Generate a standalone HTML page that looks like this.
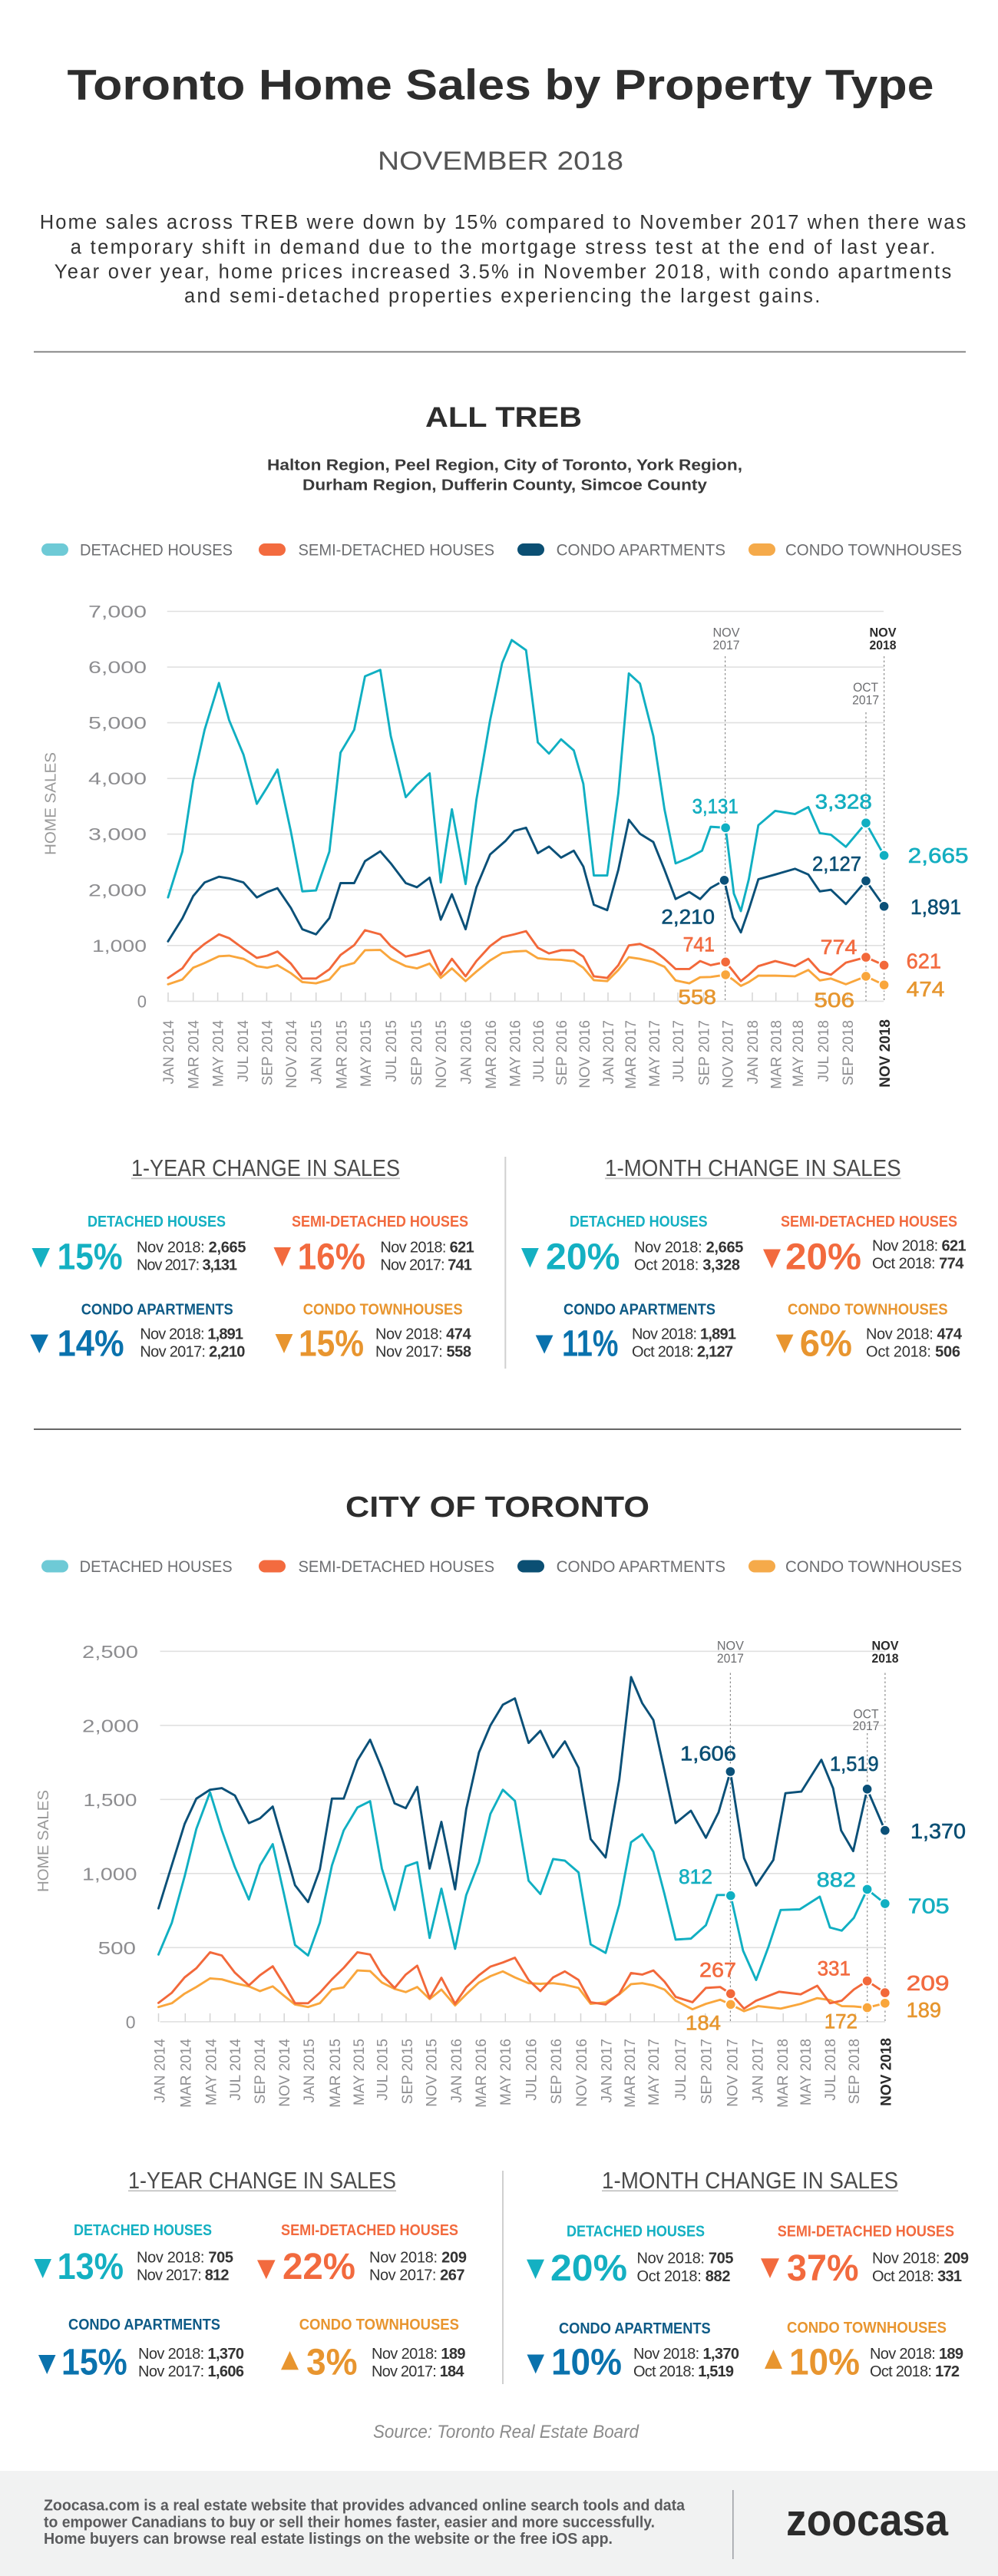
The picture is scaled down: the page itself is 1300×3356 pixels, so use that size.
<!DOCTYPE html>
<html><head><meta charset="utf-8"><title>Toronto Home Sales by Property Type</title>
<style>
html,body{margin:0;padding:0;background:#fff;}
svg{display:block;}
text{font-family:"Liberation Sans",Arial,sans-serif;}
</style></head>
<body>
<svg width="1300" height="3356" viewBox="0 0 1300 3356" xmlns="http://www.w3.org/2000/svg">
<rect x="0" y="0" width="1300" height="3356" fill="#fff"/>

<!-- HEADER -->
<text x="87.5" y="129.5" font-size="56" font-weight="bold" fill="#2d2d2d" textLength="1129" lengthAdjust="spacingAndGlyphs">Toronto Home Sales by Property Type</text>
<text x="492" y="221" font-size="34" fill="#555" textLength="320" lengthAdjust="spacingAndGlyphs">NOVEMBER 2018</text>
<g font-size="25.5" fill="#333">
<text x="51.7" y="298.2" textLength="1206.6">Home sales across TREB were down by 15% compared to November 2017 when there was</text>
<text x="91.7" y="330.4" textLength="1126.6">a temporary shift in demand due to the mortgage stress test at the end of last year.</text>
<text x="70.8" y="362.5" textLength="1168.4">Year over year,  home prices increased 3.5% in November 2018, with condo apartments</text>
<text x="240" y="393.8" textLength="828.3">and semi-detached properties experiencing the largest gains.</text>
</g>
<rect x="44" y="457.5" width="1214" height="1.8" fill="#7a7a7a"/>

<!-- ALL TREB -->
<text x="554" y="555.8" font-size="37" font-weight="bold" fill="#2d2d2d" textLength="204" lengthAdjust="spacingAndGlyphs">ALL TREB</text>
<g font-size="20" font-weight="bold" fill="#3a3a3a">
<text x="348" y="612.5" textLength="619" lengthAdjust="spacingAndGlyphs">Halton Region, Peel Region, City of Toronto, York Region,</text>
<text x="394" y="638.4" textLength="527" lengthAdjust="spacingAndGlyphs">Durham Region, Dufferin County, Simcoe County</text>
</g>

<!-- legend 1 -->
<g font-size="21" fill="#6d6e71">
<rect x="54" y="708" width="35" height="16" rx="8" fill="#6ecad6"/>
<text x="104" y="723.5" textLength="199" lengthAdjust="spacingAndGlyphs">DETACHED HOUSES</text>
<rect x="337" y="708" width="35" height="16" rx="8" fill="#f36b3f"/>
<text x="388.5" y="723.5" textLength="255.5" lengthAdjust="spacingAndGlyphs">SEMI-DETACHED HOUSES</text>
<rect x="674" y="708" width="35" height="16" rx="8" fill="#0b4f73"/>
<text x="724.6" y="723.5" textLength="220.4" lengthAdjust="spacingAndGlyphs">CONDO APARTMENTS</text>
<rect x="975" y="708" width="35" height="16" rx="8" fill="#f5aa4a"/>
<text x="1023" y="723.5" textLength="230" lengthAdjust="spacingAndGlyphs">CONDO TOWNHOUSES</text>
</g>

<!-- CHART 1 grid -->
<g stroke="#e0e0e0" stroke-width="1.6">
<line x1="217.7" y1="796.5" x2="1151" y2="796.5"/>
<line x1="217.7" y1="869.1" x2="1151" y2="869.1"/>
<line x1="217.7" y1="941.6" x2="1151" y2="941.6"/>
<line x1="217.7" y1="1014.2" x2="1151" y2="1014.2"/>
<line x1="217.7" y1="1086.7" x2="1151" y2="1086.7"/>
<line x1="217.7" y1="1159.3" x2="1151" y2="1159.3"/>
<line x1="217.7" y1="1231.8" x2="1151" y2="1231.8"/>
<line x1="217.7" y1="1304.4" x2="1151" y2="1304.4"/>
</g>
<g font-size="22" fill="#8d8d90" text-anchor="end">
<text x="191" y="804.5" textLength="76" lengthAdjust="spacingAndGlyphs">7,000</text>
<text x="191" y="877.1" textLength="76" lengthAdjust="spacingAndGlyphs">6,000</text>
<text x="191" y="949.6" textLength="76" lengthAdjust="spacingAndGlyphs">5,000</text>
<text x="191" y="1022.2" textLength="76" lengthAdjust="spacingAndGlyphs">4,000</text>
<text x="191" y="1094.7" textLength="76" lengthAdjust="spacingAndGlyphs">3,000</text>
<text x="191" y="1167.3" textLength="76" lengthAdjust="spacingAndGlyphs">2,000</text>
<text x="191" y="1239.8" textLength="71" lengthAdjust="spacingAndGlyphs">1,000</text>
<text x="191" y="1312.4">0</text>
</g>
<text transform="translate(72.5,1047) rotate(-90)" x="0" y="0" text-anchor="middle" font-size="20" fill="#9a9a9a" textLength="134" lengthAdjust="spacingAndGlyphs">HOME SALES</text>

<!-- chart 1 ticks -->
<g stroke="#d4d4d4" stroke-width="1.5">
<line x1="219" y1="1293" x2="219" y2="1304"/><line x1="251.7" y1="1293" x2="251.7" y2="1304"/><line x1="283.6" y1="1293" x2="283.6" y2="1304"/><line x1="316" y1="1293" x2="316" y2="1304"/><line x1="347.4" y1="1293" x2="347.4" y2="1304"/><line x1="379" y1="1293" x2="379" y2="1304"/><line x1="411.7" y1="1293" x2="411.7" y2="1304"/><line x1="444.4" y1="1293" x2="444.4" y2="1304"/><line x1="476" y1="1293" x2="476" y2="1304"/><line x1="509" y1="1293" x2="509" y2="1304"/><line x1="542" y1="1293" x2="542" y2="1304"/><line x1="574" y1="1293" x2="574" y2="1304"/><line x1="606.5" y1="1293" x2="606.5" y2="1304"/><line x1="639" y1="1293" x2="639" y2="1304"/><line x1="670.7" y1="1293" x2="670.7" y2="1304"/><line x1="701" y1="1293" x2="701" y2="1304"/><line x1="731" y1="1293" x2="731" y2="1304"/><line x1="761" y1="1293" x2="761" y2="1304"/><line x1="792" y1="1293" x2="792" y2="1304"/><line x1="821" y1="1293" x2="821" y2="1304"/><line x1="852" y1="1293" x2="852" y2="1304"/><line x1="883" y1="1293" x2="883" y2="1304"/><line x1="916.6" y1="1293" x2="916.6" y2="1304"/><line x1="980" y1="1293" x2="980" y2="1304"/><line x1="1010.7" y1="1293" x2="1010.7" y2="1304"/><line x1="1039" y1="1293" x2="1039" y2="1304"/><line x1="1072" y1="1293" x2="1072" y2="1304"/><line x1="1104" y1="1293" x2="1104" y2="1304"/>
</g>
<!-- chart 1 x labels -->
<g font-size="19" fill="#8f8f92" text-anchor="end">
<text transform="translate(226,1329) rotate(-90)">JAN 2014</text>
<text transform="translate(258.7,1329) rotate(-90)">MAR 2014</text>
<text transform="translate(290.6,1329) rotate(-90)">MAY 2014</text>
<text transform="translate(323,1329) rotate(-90)">JUL 2014</text>
<text transform="translate(354.4,1329) rotate(-90)">SEP 2014</text>
<text transform="translate(386,1329) rotate(-90)">NOV 2014</text>
<text transform="translate(418.7,1329) rotate(-90)">JAN 2015</text>
<text transform="translate(451.4,1329) rotate(-90)">MAR 2015</text>
<text transform="translate(483,1329) rotate(-90)">MAY 2015</text>
<text transform="translate(516,1329) rotate(-90)">JUL 2015</text>
<text transform="translate(549,1329) rotate(-90)">SEP 2015</text>
<text transform="translate(581,1329) rotate(-90)">NOV 2015</text>
<text transform="translate(613.5,1329) rotate(-90)">JAN 2016</text>
<text transform="translate(646,1329) rotate(-90)">MAR 2016</text>
<text transform="translate(677.7,1329) rotate(-90)">MAY 2016</text>
<text transform="translate(708,1329) rotate(-90)">JUL 2016</text>
<text transform="translate(738,1329) rotate(-90)">SEP 2016</text>
<text transform="translate(768,1329) rotate(-90)">NOV 2016</text>
<text transform="translate(799,1329) rotate(-90)">JAN 2017</text>
<text transform="translate(828,1329) rotate(-90)">MAR 2017</text>
<text transform="translate(859,1329) rotate(-90)">MAY 2017</text>
<text transform="translate(890,1329) rotate(-90)">JUL 2017</text>
<text transform="translate(923.6,1329) rotate(-90)">SEP 2017</text>
<text transform="translate(954.7,1329) rotate(-90)">NOV 2017</text>
<text transform="translate(987,1329) rotate(-90)">JAN 2018</text>
<text transform="translate(1017.7,1329) rotate(-90)">MAR 2018</text>
<text transform="translate(1046,1329) rotate(-90)">MAY 2018</text>
<text transform="translate(1079,1329) rotate(-90)">JUL 2018</text>
<text transform="translate(1111,1329) rotate(-90)">SEP 2018</text>
<text transform="translate(1159,1328) rotate(-90)" font-weight="bold" fill="#2b2b2b">NOV 2018</text>
</g>

<!-- chart 1 dashed markers -->
<g stroke="#8a8a8a" stroke-width="1.2" stroke-dasharray="2.5,3">
<line x1="944.6" y1="855" x2="944.6" y2="1304"/>
<line x1="1128" y1="928" x2="1128" y2="1304"/>
<line x1="1151.6" y1="855" x2="1151.6" y2="1304"/>
</g>
<g font-size="17" text-anchor="middle" fill="#6d6e71">
<text x="946" y="829.4" textLength="35" lengthAdjust="spacingAndGlyphs">NOV</text>
<text x="946" y="845.8" textLength="35" lengthAdjust="spacingAndGlyphs">2017</text>
<text x="1127.6" y="901" textLength="33" lengthAdjust="spacingAndGlyphs">OCT</text>
<text x="1127.6" y="917.5" textLength="35" lengthAdjust="spacingAndGlyphs">2017</text>
<text x="1150" y="829.4" font-weight="bold" fill="#2b2b2b" textLength="35" lengthAdjust="spacingAndGlyphs">NOV</text>
<text x="1150" y="845.8" font-weight="bold" fill="#2b2b2b" textLength="35" lengthAdjust="spacingAndGlyphs">2018</text>
</g>

<!-- chart 1 series (zoom frame coords) -->
<g transform="translate(0,760) scale(0.41454)" fill="none" stroke-width="7" stroke-linejoin="round" stroke-linecap="round">
<polyline stroke="#f9a63c" points="528,1260 573,1245 607,1208 643,1193 688,1172 720,1170 765,1180 807,1203 840,1208 872,1200 914,1225 950,1253 993,1257 1035,1245 1070,1205 1113,1193 1147,1153 1195,1152 1228,1180 1275,1203 1310,1210 1350,1195 1385,1240 1420,1210 1463,1250 1497,1220 1540,1185 1578,1162 1616,1157 1653,1155 1690,1178 1725,1182 1763,1183 1803,1188 1833,1208 1866,1247 1908,1250 1943,1215 1976,1175 2011,1180 2053,1190 2088,1205 2123,1248 2166,1257 2200,1238 2233,1237 2280,1230 2303,1245 2328,1265 2353,1253 2383,1233 2436,1233 2498,1235 2540,1215 2576,1248 2611,1242 2658,1260 2721,1235 2778,1262"/>
<polyline stroke="#f2683a" points="528,1240 573,1210 607,1163 643,1133 688,1103 720,1115 765,1148 807,1177 840,1170 872,1157 914,1195 950,1242 993,1242 1035,1213 1070,1168 1113,1137 1147,1090 1195,1103 1228,1140 1275,1173 1310,1165 1350,1153 1385,1230 1420,1180 1463,1235 1497,1187 1540,1140 1578,1112 1616,1103 1653,1093 1690,1145 1725,1163 1763,1153 1803,1153 1833,1173 1866,1235 1908,1240 1943,1200 1976,1138 2011,1133 2053,1152 2088,1180 2123,1212 2166,1212 2200,1187 2233,1200 2280,1190 2303,1218 2328,1250 2353,1230 2383,1203 2436,1187 2498,1203 2540,1180 2576,1220 2611,1230 2658,1192 2721,1175 2778,1200"/>
<polyline stroke="#0a5078" points="528,1125 573,1053 607,983 643,940 688,922 720,927 765,940 807,987 840,970 872,958 914,1020 950,1087 993,1103 1035,1052 1070,942 1113,942 1147,873 1195,842 1228,880 1275,942 1310,955 1350,925 1385,1057 1420,977 1463,1087 1497,955 1540,852 1588,810 1616,778 1653,768 1690,848 1725,827 1763,862 1803,840 1833,890 1866,1010 1908,1027 1943,900 1976,743 2011,787 2053,813 2088,900 2123,992 2166,970 2200,992 2233,957 2276,933 2303,1050 2328,1097 2353,1025 2383,930 2436,915 2498,897 2540,915 2576,968 2611,963 2658,1008 2721,935 2778,1015"/>
<polyline stroke="#10afc2" points="528,987 573,843 607,620 643,460 688,313 720,430 765,538 807,693 840,640 872,585 914,780 950,968 993,965 1035,843 1070,532 1113,460 1147,292 1195,272 1228,480 1275,672 1310,633 1350,597 1385,940 1420,710 1463,945 1497,680 1540,430 1578,250 1608,178 1653,210 1690,500 1725,535 1763,490 1803,525 1833,630 1866,918 1908,918 1943,660 1976,283 2011,315 2053,480 2088,710 2123,880 2166,862 2206,840 2233,765 2280,768 2306,975 2328,1030 2353,930 2383,760 2436,715 2498,725 2540,703 2576,785 2611,790 2658,828 2721,753 2778,855"/>
<g stroke="#fff" stroke-width="4">
<circle cx="2280" cy="768" r="16" fill="#10afc2"/><circle cx="2721" cy="753" r="16" fill="#10afc2"/><circle cx="2778" cy="855" r="16" fill="#10afc2"/>
<circle cx="2276" cy="933" r="16" fill="#0a5078"/><circle cx="2721" cy="935" r="16" fill="#0a5078"/><circle cx="2778" cy="1015" r="16" fill="#0a5078"/>
<circle cx="2280" cy="1190" r="16" fill="#f2683a"/><circle cx="2721" cy="1175" r="16" fill="#f2683a"/><circle cx="2778" cy="1200" r="16" fill="#f2683a"/>
<circle cx="2280" cy="1230" r="16" fill="#f9a63c"/><circle cx="2721" cy="1235" r="16" fill="#f9a63c"/><circle cx="2778" cy="1262" r="16" fill="#f9a63c"/>
</g>
</g>

<!-- chart 1 value labels -->
<g font-size="27" stroke-width="0.6" lengthAdjust="spacingAndGlyphs">
<text x="901.6" y="1059.3" fill="#14aec0" stroke="#14aec0" textLength="60.2" lengthAdjust="spacingAndGlyphs">3,131</text>
<text x="1061.7" y="1053.5" fill="#14aec0" stroke="#14aec0" textLength="74.2" lengthAdjust="spacingAndGlyphs">3,328</text>
<text x="1182.7" y="1124" font-size="28" fill="#14aec0" stroke="#14aec0" textLength="78.8" lengthAdjust="spacingAndGlyphs">2,665</text>
<text x="1058" y="1134.4" fill="#0a4f74" stroke="#0a4f74" textLength="64" lengthAdjust="spacingAndGlyphs">2,127</text>
<text x="861.4" y="1203.6" fill="#0a4f74" stroke="#0a4f74" textLength="69.6" lengthAdjust="spacingAndGlyphs">2,210</text>
<text x="1186" y="1191" font-size="28" fill="#0a4f74" stroke="#0a4f74" textLength="66" lengthAdjust="spacingAndGlyphs">1,891</text>
<text x="889.6" y="1239.7" fill="#f26b40" stroke="#f26b40" textLength="41.4" lengthAdjust="spacingAndGlyphs">741</text>
<text x="1068.7" y="1243" fill="#f26b40" stroke="#f26b40" textLength="47.7" lengthAdjust="spacingAndGlyphs">774</text>
<text x="1180.6" y="1261.6" font-size="28" fill="#f26b40" stroke="#f26b40" textLength="45.4" lengthAdjust="spacingAndGlyphs">621</text>
<text x="883.4" y="1308" fill="#e6962f" stroke="#e6962f" textLength="49.6" lengthAdjust="spacingAndGlyphs">558</text>
<text x="1060.4" y="1312" fill="#e6962f" stroke="#e6962f" textLength="52.6" lengthAdjust="spacingAndGlyphs">506</text>
<text x="1180.6" y="1298" font-size="28" fill="#e6962f" stroke="#e6962f" textLength="49.8" lengthAdjust="spacingAndGlyphs">474</text>
</g>

<!-- STATS 1 -->
<g font-size="31" fill="#4a4a4a">
<text x="171" y="1532" textLength="350" lengthAdjust="spacingAndGlyphs">1-YEAR CHANGE IN SALES</text>
<text x="788" y="1532" textLength="385.6" lengthAdjust="spacingAndGlyphs">1-MONTH CHANGE IN SALES</text>
</g>
<rect x="171" y="1534.2" width="350" height="2" fill="#c8c8c8"/>
<rect x="788" y="1534.2" width="385.6" height="2" fill="#c8c8c8"/>
<rect x="657.3" y="1507" width="2" height="276" fill="#d0d0d0"/>

<g font-size="20" font-weight="bold">
<text x="114" y="1598" fill="#14b0c2" textLength="180" lengthAdjust="spacingAndGlyphs">DETACHED HOUSES</text>
<text x="380" y="1598" fill="#f26a3e" textLength="230" lengthAdjust="spacingAndGlyphs">SEMI-DETACHED HOUSES</text>
<text x="105.7" y="1712.5" fill="#0d5a86" textLength="198" lengthAdjust="spacingAndGlyphs">CONDO APARTMENTS</text>
<text x="394.7" y="1712.5" fill="#e8952f" textLength="208" lengthAdjust="spacingAndGlyphs">CONDO TOWNHOUSES</text>
<text x="742" y="1598" fill="#14b0c2" textLength="179.6" lengthAdjust="spacingAndGlyphs">DETACHED HOUSES</text>
<text x="1017" y="1598" fill="#f26a3e" textLength="230" lengthAdjust="spacingAndGlyphs">SEMI-DETACHED HOUSES</text>
<text x="734" y="1712.5" fill="#0d5a86" textLength="198" lengthAdjust="spacingAndGlyphs">CONDO APARTMENTS</text>
<text x="1026" y="1712.5" fill="#e8952f" textLength="208.6" lengthAdjust="spacingAndGlyphs">CONDO TOWNHOUSES</text>
</g>
<g font-size="48" font-weight="bold">
<text x="74.6" y="1653.6" fill="#14b0c2" textLength="85" lengthAdjust="spacingAndGlyphs">15%</text>
<text x="387.6" y="1653.6" fill="#f26a3e" textLength="88.4" lengthAdjust="spacingAndGlyphs">16%</text>
<text x="74.6" y="1766.4" fill="#0a72ad" textLength="87" lengthAdjust="spacingAndGlyphs">14%</text>
<text x="389" y="1766.4" fill="#e8952f" textLength="85" lengthAdjust="spacingAndGlyphs">15%</text>
<text x="711" y="1653.6" fill="#14b0c2" textLength="96.5" lengthAdjust="spacingAndGlyphs">20%</text>
<text x="1023" y="1653.6" fill="#f26a3e" textLength="99" lengthAdjust="spacingAndGlyphs">20%</text>
<text x="732" y="1766.4" fill="#0a72ad" textLength="73.5" lengthAdjust="spacingAndGlyphs">11%</text>
<text x="1041.8" y="1766.4" fill="#e8952f" textLength="68.2" lengthAdjust="spacingAndGlyphs">6%</text>
</g>
<polygon points="41.5,1626 65,1626 53.2,1651.6" fill="#14b0c2"/>
<polygon points="356.5,1625 379,1625 367.7,1650" fill="#f26a3e"/>
<polygon points="39.4,1738.6 63,1738.6 51.2,1763" fill="#0a72ad"/>
<polygon points="358.6,1738 381.4,1738 370,1763" fill="#e8952f"/>
<polygon points="679,1626 701.8,1626 690.4,1651.6" fill="#14b0c2"/>
<polygon points="994,1627.5 1017,1627.5 1005.5,1652.4" fill="#f26a3e"/>
<polygon points="697.7,1739.5 720.5,1739.5 709.1,1763.6" fill="#0a72ad"/>
<polygon points="1010.7,1738.6 1033.5,1738.6 1022.1,1763" fill="#e8952f"/>

<g font-size="20" fill="#333">
<text x="178" y="1631.7" textLength="142.5">Nov 2018: <tspan font-weight="bold">2,665</tspan></text>
<text x="178" y="1654.5" textLength="131">Nov 2017: <tspan font-weight="bold">3,131</tspan></text>
<text x="495.4" y="1631.7" textLength="122.3">Nov 2018: <tspan font-weight="bold">621</tspan></text>
<text x="495.4" y="1654.5" textLength="119.5">Nov 2017: <tspan font-weight="bold">741</tspan></text>
<text x="182.4" y="1744.5" textLength="134.6">Nov 2018: <tspan font-weight="bold">1,891</tspan></text>
<text x="182.4" y="1767.6" textLength="137">Nov 2017: <tspan font-weight="bold">2,210</tspan></text>
<text x="489" y="1744.5" textLength="124.6">Nov 2018: <tspan font-weight="bold">474</tspan></text>
<text x="489" y="1767.6" textLength="125">Nov 2017: <tspan font-weight="bold">558</tspan></text>
<text x="826" y="1631.7" textLength="142.4">Nov 2018: <tspan font-weight="bold">2,665</tspan></text>
<text x="826" y="1654.5" textLength="138">Oct 2018: <tspan font-weight="bold">3,328</tspan></text>
<text x="1136" y="1629.6" textLength="122.6">Nov 2018: <tspan font-weight="bold">621</tspan></text>
<text x="1136" y="1652.4" textLength="119.4">Oct 2018: <tspan font-weight="bold">774</tspan></text>
<text x="823" y="1744.5" textLength="136">Nov 2018: <tspan font-weight="bold">1,891</tspan></text>
<text x="823" y="1767.6" textLength="132">Oct 2018: <tspan font-weight="bold">2,127</tspan></text>
<text x="1128" y="1744.5" textLength="125">Nov 2018: <tspan font-weight="bold">474</tspan></text>
<text x="1128" y="1767.6" textLength="123">Oct 2018: <tspan font-weight="bold">506</tspan></text>
</g>

<rect x="44" y="1861" width="1208" height="2" fill="#666"/>

<!-- CITY OF TORONTO -->
<text x="450" y="1976.2" font-size="38" font-weight="bold" fill="#2d2d2d" textLength="396" lengthAdjust="spacingAndGlyphs">CITY OF TORONTO</text>
<g font-size="21" fill="#6d6e71">
<rect x="54" y="2032.5" width="35" height="16" rx="8" fill="#6ecad6"/>
<text x="103.6" y="2048" textLength="199" lengthAdjust="spacingAndGlyphs">DETACHED HOUSES</text>
<rect x="337" y="2032.5" width="35" height="16" rx="8" fill="#f36b3f"/>
<text x="388.5" y="2048" textLength="255.5" lengthAdjust="spacingAndGlyphs">SEMI-DETACHED HOUSES</text>
<rect x="674" y="2032.5" width="35" height="16" rx="8" fill="#0b4f73"/>
<text x="724.6" y="2048" textLength="220.4" lengthAdjust="spacingAndGlyphs">CONDO APARTMENTS</text>
<rect x="975" y="2032.5" width="35" height="16" rx="8" fill="#f5aa4a"/>
<text x="1023" y="2048" textLength="230" lengthAdjust="spacingAndGlyphs">CONDO TOWNHOUSES</text>
</g>

<!-- CHART 2 grid -->
<g stroke="#e0e0e0" stroke-width="1.6">
<line x1="208.5" y1="2151.3" x2="1153" y2="2151.3"/>
<line x1="208.5" y1="2247.8" x2="1153" y2="2247.8"/>
<line x1="208.5" y1="2344.3" x2="1153" y2="2344.3"/>
<line x1="208.5" y1="2440.8" x2="1153" y2="2440.8"/>
<line x1="208.5" y1="2537.3" x2="1153" y2="2537.3"/>
<line x1="208.5" y1="2633.9" x2="1153" y2="2633.9"/>
</g>
<g font-size="23" fill="#8d8d90" text-anchor="end">
<text x="180" y="2160" textLength="73" lengthAdjust="spacingAndGlyphs">2,500</text>
<text x="181" y="2256.5" textLength="74" lengthAdjust="spacingAndGlyphs">2,000</text>
<text x="178.5" y="2353" textLength="70" lengthAdjust="spacingAndGlyphs">1,500</text>
<text x="178.5" y="2449.5" textLength="71.5" lengthAdjust="spacingAndGlyphs">1,000</text>
<text x="177" y="2546" textLength="49.3" lengthAdjust="spacingAndGlyphs">500</text>
<text x="176.5" y="2642.5">0</text>
</g>
<text transform="translate(63,2398.5) rotate(-90)" x="0" y="0" text-anchor="middle" font-size="20" fill="#9a9a9a" textLength="133" lengthAdjust="spacingAndGlyphs">HOME SALES</text>

<g stroke="#d4d4d4" stroke-width="1.5">
<line x1="206.5" y1="2623" x2="206.5" y2="2634"/><line x1="241.3" y1="2623" x2="241.3" y2="2634"/><line x1="273.6" y1="2623" x2="273.6" y2="2634"/><line x1="306" y1="2623" x2="306" y2="2634"/><line x1="338.7" y1="2623" x2="338.7" y2="2634"/><line x1="370.2" y1="2623" x2="370.2" y2="2634"/><line x1="402" y1="2623" x2="402" y2="2634"/><line x1="435.3" y1="2623" x2="435.3" y2="2634"/><line x1="467.2" y1="2623" x2="467.2" y2="2634"/><line x1="497.5" y1="2623" x2="497.5" y2="2634"/><line x1="529" y1="2623" x2="529" y2="2634"/><line x1="561.8" y1="2623" x2="561.8" y2="2634"/><line x1="594" y1="2623" x2="594" y2="2634"/><line x1="626.4" y1="2623" x2="626.4" y2="2634"/><line x1="658.3" y1="2623" x2="658.3" y2="2634"/><line x1="690.6" y1="2623" x2="690.6" y2="2634"/><line x1="722.6" y1="2623" x2="722.6" y2="2634"/><line x1="756.5" y1="2623" x2="756.5" y2="2634"/><line x1="788.9" y1="2623" x2="788.9" y2="2634"/><line x1="821.2" y1="2623" x2="821.2" y2="2634"/><line x1="852.3" y1="2623" x2="852.3" y2="2634"/><line x1="884.2" y1="2623" x2="884.2" y2="2634"/><line x1="918.7" y1="2623" x2="918.7" y2="2634"/><line x1="985.8" y1="2623" x2="985.8" y2="2634"/><line x1="1020.2" y1="2623" x2="1020.2" y2="2634"/><line x1="1050" y1="2623" x2="1050" y2="2634"/><line x1="1082.4" y1="2623" x2="1082.4" y2="2634"/><line x1="1114.3" y1="2623" x2="1114.3" y2="2634"/>
</g>
<g font-size="19" fill="#8f8f92" text-anchor="end">
<text transform="translate(214.3,2656) rotate(-90)">JAN 2014</text>
<text transform="translate(248.3,2656) rotate(-90)">MAR 2014</text>
<text transform="translate(281.5,2656) rotate(-90)">MAY 2014</text>
<text transform="translate(313,2656) rotate(-90)">JUL 2014</text>
<text transform="translate(345,2656) rotate(-90)">SEP 2014</text>
<text transform="translate(377,2656) rotate(-90)">NOV 2014</text>
<text transform="translate(409,2656) rotate(-90)">JAN 2015</text>
<text transform="translate(443,2656) rotate(-90)">MAR 2015</text>
<text transform="translate(474,2656) rotate(-90)">MAY 2015</text>
<text transform="translate(504.5,2656) rotate(-90)">JUL 2015</text>
<text transform="translate(537,2656) rotate(-90)">SEP 2015</text>
<text transform="translate(568.7,2656) rotate(-90)">NOV 2015</text>
<text transform="translate(601,2656) rotate(-90)">JAN 2016</text>
<text transform="translate(633,2656) rotate(-90)">MAR 2016</text>
<text transform="translate(665,2656) rotate(-90)">MAY 2016</text>
<text transform="translate(698.5,2656) rotate(-90)">JUL 2016</text>
<text transform="translate(730.8,2656) rotate(-90)">SEP 2016</text>
<text transform="translate(764,2656) rotate(-90)">NOV 2016</text>
<text transform="translate(796.7,2656) rotate(-90)">JAN 2017</text>
<text transform="translate(827,2656) rotate(-90)">MAR 2017</text>
<text transform="translate(858,2656) rotate(-90)">MAY 2017</text>
<text transform="translate(893,2656) rotate(-90)">JUL 2017</text>
<text transform="translate(926.5,2656) rotate(-90)">SEP 2017</text>
<text transform="translate(960.5,2656) rotate(-90)">NOV 2017</text>
<text transform="translate(993.6,2656) rotate(-90)">JAN 2017</text>
<text transform="translate(1026,2656) rotate(-90)">MAR 2018</text>
<text transform="translate(1055.8,2656) rotate(-90)">MAY 2018</text>
<text transform="translate(1088,2656) rotate(-90)">JUL 2018</text>
<text transform="translate(1119,2656) rotate(-90)">SEP 2018</text>
<text transform="translate(1160.5,2655) rotate(-90)" font-weight="bold" fill="#2b2b2b">NOV 2018</text>
</g>

<g stroke="#8a8a8a" stroke-width="1.2" stroke-dasharray="2.5,3">
<line x1="951.4" y1="2179.5" x2="951.4" y2="2634"/>
<line x1="1129.7" y1="2258" x2="1129.7" y2="2634"/>
<line x1="1152.9" y1="2179.5" x2="1152.9" y2="2634"/>
</g>
<g font-size="17" text-anchor="middle" fill="#6d6e71">
<text x="951.4" y="2149.7" textLength="35" lengthAdjust="spacingAndGlyphs">NOV</text>
<text x="951.4" y="2165.8" textLength="35" lengthAdjust="spacingAndGlyphs">2017</text>
<text x="1128" y="2238.4" textLength="33" lengthAdjust="spacingAndGlyphs">OCT</text>
<text x="1128" y="2254" textLength="35" lengthAdjust="spacingAndGlyphs">2017</text>
<text x="1153" y="2149.7" font-weight="bold" fill="#2b2b2b" textLength="35" lengthAdjust="spacingAndGlyphs">NOV</text>
<text x="1153" y="2165.8" font-weight="bold" fill="#2b2b2b" textLength="35" lengthAdjust="spacingAndGlyphs">2018</text>
</g>

<g transform="translate(0,2080) scale(0.41454)" fill="none" stroke-width="7" stroke-linejoin="round" stroke-linecap="round">
<polyline stroke="#f9a63c" points="498,1290 540,1278 580,1248 617,1227 660,1200 697,1203 738,1215 782,1225 817,1240 857,1225 893,1255 927,1282 968,1290 1005,1278 1043,1235 1080,1228 1123,1175 1163,1177 1200,1213 1240,1233 1275,1243 1311,1227 1350,1265 1387,1235 1430,1285 1465,1250 1505,1213 1541,1193 1580,1178 1618,1197 1661,1215 1698,1217 1738,1215 1775,1220 1818,1230 1856,1280 1903,1275 1946,1250 1983,1218 2018,1215 2053,1222 2088,1235 2123,1270 2176,1297 2218,1280 2263,1267 2296,1282 2338,1303 2383,1287 2453,1295 2516,1280 2568,1262 2608,1268 2645,1287 2683,1288 2725,1292 2781,1278"/>
<polyline stroke="#f2683a" points="498,1277 540,1245 580,1197 617,1168 660,1118 697,1128 738,1182 782,1222 817,1190 857,1162 893,1220 927,1278 968,1278 1005,1245 1043,1203 1080,1167 1123,1118 1163,1125 1200,1188 1240,1230 1275,1188 1311,1160 1350,1262 1387,1198 1430,1280 1465,1228 1505,1190 1541,1163 1580,1150 1618,1135 1661,1205 1698,1240 1738,1197 1775,1178 1818,1205 1856,1275 1903,1282 1946,1248 1983,1183 2018,1188 2053,1175 2088,1210 2123,1258 2176,1275 2218,1230 2263,1227 2296,1248 2338,1295 2376,1270 2448,1242 2516,1250 2568,1223 2608,1278 2645,1270 2683,1235 2725,1208 2781,1245"/>
<polyline stroke="#10afc2" points="498,1125 540,1025 580,880 617,730 660,615 697,735 738,850 782,952 817,845 857,778 893,938 927,1095 968,1128 1005,1025 1043,845 1080,735 1123,663 1163,643 1200,855 1240,985 1275,848 1311,835 1350,1073 1387,918 1430,1107 1465,938 1505,835 1541,683 1580,607 1618,642 1661,893 1698,935 1738,825 1775,830 1818,867 1856,1093 1903,1120 1946,968 1983,772 2018,747 2053,802 2088,935 2123,1078 2171,1075 2218,1033 2253,938 2278,938 2296,940 2335,1113 2376,1205 2415,1100 2453,985 2513,983 2576,943 2608,1040 2645,1050 2683,1010 2725,920 2781,965"/>
<polyline stroke="#0a5078" points="498,980 535,860 580,715 617,635 660,607 697,602 738,625 782,712 817,697 857,660 893,785 927,907 968,960 1005,858 1043,635 1080,635 1123,515 1163,450 1200,540 1240,650 1275,665 1311,598 1350,855 1387,708 1430,920 1465,668 1505,490 1541,405 1580,340 1618,320 1661,460 1698,422 1738,505 1775,455 1818,538 1856,762 1903,820 1946,575 1983,253 2018,335 2053,388 2088,548 2123,712 2171,673 2218,758 2258,678 2295,550 2338,822 2376,908 2430,828 2468,618 2518,613 2581,513 2618,603 2643,735 2681,800 2725,605 2781,735"/>
<g stroke="#fff" stroke-width="4">
<circle cx="2296" cy="940" r="16" fill="#10afc2"/><circle cx="2725" cy="920" r="16" fill="#10afc2"/><circle cx="2781" cy="965" r="16" fill="#10afc2"/>
<circle cx="2295" cy="550" r="16" fill="#0a5078"/><circle cx="2725" cy="605" r="16" fill="#0a5078"/><circle cx="2781" cy="735" r="16" fill="#0a5078"/>
<circle cx="2296" cy="1248" r="16" fill="#f2683a"/><circle cx="2725" cy="1208" r="16" fill="#f2683a"/><circle cx="2781" cy="1245" r="16" fill="#f2683a"/>
<circle cx="2296" cy="1282" r="16" fill="#f9a63c"/><circle cx="2725" cy="1292" r="16" fill="#f9a63c"/><circle cx="2781" cy="1278" r="16" fill="#f9a63c"/>
</g>
</g>

<g font-size="27" stroke-width="0.6">
<text x="886" y="2293.5" fill="#0a4f74" stroke="#0a4f74" textLength="73" lengthAdjust="spacingAndGlyphs">1,606</text>
<text x="1081" y="2307" fill="#0a4f74" stroke="#0a4f74" textLength="63.6" lengthAdjust="spacingAndGlyphs">1,519</text>
<text x="1186" y="2395" font-size="28" fill="#0a4f74" stroke="#0a4f74" textLength="72" lengthAdjust="spacingAndGlyphs">1,370</text>
<text x="884" y="2454" fill="#14aec0" stroke="#14aec0" textLength="44" lengthAdjust="spacingAndGlyphs">812</text>
<text x="1063.7" y="2458" fill="#14aec0" stroke="#14aec0" textLength="51.3" lengthAdjust="spacingAndGlyphs">882</text>
<text x="1182.7" y="2492.5" font-size="28" fill="#14aec0" stroke="#14aec0" textLength="54" lengthAdjust="spacingAndGlyphs">705</text>
<text x="911" y="2575.4" fill="#f26b40" stroke="#f26b40" textLength="48" lengthAdjust="spacingAndGlyphs">267</text>
<text x="1064.6" y="2573.3" fill="#f26b40" stroke="#f26b40" textLength="43.4" lengthAdjust="spacingAndGlyphs">331</text>
<text x="1180.6" y="2592.8" font-size="28" fill="#f26b40" stroke="#f26b40" textLength="56" lengthAdjust="spacingAndGlyphs">209</text>
<text x="893" y="2644.6" fill="#e6962f" stroke="#e6962f" textLength="46" lengthAdjust="spacingAndGlyphs">184</text>
<text x="1073.7" y="2642.6" fill="#e6962f" stroke="#e6962f" textLength="43.3" lengthAdjust="spacingAndGlyphs">172</text>
<text x="1180.6" y="2628" font-size="28" fill="#e6962f" stroke="#e6962f" textLength="45.4" lengthAdjust="spacingAndGlyphs">189</text>
</g>

<!-- STATS 2 -->
<g font-size="31" fill="#4a4a4a">
<text x="167" y="2851" textLength="349" lengthAdjust="spacingAndGlyphs">1-YEAR CHANGE IN SALES</text>
<text x="784" y="2851" textLength="386" lengthAdjust="spacingAndGlyphs">1-MONTH CHANGE IN SALES</text>
</g>
<rect x="167" y="2853.2" width="349" height="2" fill="#c8c8c8"/>
<rect x="784" y="2853.2" width="386" height="2" fill="#c8c8c8"/>
<rect x="654" y="2828" width="2" height="278" fill="#d0d0d0"/>

<g font-size="20" font-weight="bold">
<text x="96" y="2912" fill="#14b0c2" textLength="180" lengthAdjust="spacingAndGlyphs">DETACHED HOUSES</text>
<text x="366" y="2912" fill="#f26a3e" textLength="231" lengthAdjust="spacingAndGlyphs">SEMI-DETACHED HOUSES</text>
<text x="89" y="3035" fill="#0d5a86" textLength="198" lengthAdjust="spacingAndGlyphs">CONDO APARTMENTS</text>
<text x="389.7" y="3035" fill="#e8952f" textLength="208.3" lengthAdjust="spacingAndGlyphs">CONDO TOWNHOUSES</text>
<text x="738" y="2913.3" fill="#14b0c2" textLength="180" lengthAdjust="spacingAndGlyphs">DETACHED HOUSES</text>
<text x="1012.8" y="2913.3" fill="#f26a3e" textLength="230.2" lengthAdjust="spacingAndGlyphs">SEMI-DETACHED HOUSES</text>
<text x="728" y="3040" fill="#0d5a86" textLength="197.7" lengthAdjust="spacingAndGlyphs">CONDO APARTMENTS</text>
<text x="1025" y="3039" fill="#e8952f" textLength="208" lengthAdjust="spacingAndGlyphs">CONDO TOWNHOUSES</text>
</g>
<g font-size="48" font-weight="bold">
<text x="74.6" y="2969" fill="#14b0c2" textLength="86.4" lengthAdjust="spacingAndGlyphs">13%</text>
<text x="368" y="2969" fill="#f26a3e" textLength="95" lengthAdjust="spacingAndGlyphs">22%</text>
<text x="80" y="3093.6" fill="#0a72ad" textLength="85.8" lengthAdjust="spacingAndGlyphs">15%</text>
<text x="399" y="3093.6" fill="#e8952f" textLength="66.6" lengthAdjust="spacingAndGlyphs">3%</text>
<text x="717" y="2971" fill="#14b0c2" textLength="100" lengthAdjust="spacingAndGlyphs">20%</text>
<text x="1025" y="2971" fill="#f26a3e" textLength="93.5" lengthAdjust="spacingAndGlyphs">37%</text>
<text x="718" y="3093.6" fill="#0a72ad" textLength="92" lengthAdjust="spacingAndGlyphs">10%</text>
<text x="1028" y="3093.6" fill="#e8952f" textLength="92" lengthAdjust="spacingAndGlyphs">10%</text>
</g>
<polygon points="44.4,2943 67,2943 55.7,2968" fill="#14b0c2"/>
<polygon points="335,2944.4 358.6,2944.4 346.8,2969.3" fill="#f26a3e"/>
<polygon points="50,3068 72.5,3068 61.2,3093" fill="#0a72ad"/>
<polygon points="366,3087.4 389,3087.4 377.5,3063" fill="#e8952f"/>
<polygon points="686,2943.6 709,2943.6 697.5,2969" fill="#14b0c2"/>
<polygon points="991,2942.3 1015,2942.3 1003,2968" fill="#f26a3e"/>
<polygon points="686.5,3067.5 709,3067.5 697.7,3092.4" fill="#0a72ad"/>
<polygon points="996,3086 1019,3086 1007.5,3061" fill="#e8952f"/>

<g font-size="20" fill="#333">
<text x="178" y="2947.7" textLength="126">Nov 2018: <tspan font-weight="bold">705</tspan></text>
<text x="178" y="2970.5" textLength="120.5">Nov 2017: <tspan font-weight="bold">812</tspan></text>
<text x="481" y="2947.7" textLength="127">Nov 2018: <tspan font-weight="bold">209</tspan></text>
<text x="481" y="2970.5" textLength="124.5">Nov 2017: <tspan font-weight="bold">267</tspan></text>
<text x="180" y="3073" textLength="138">Nov 2018: <tspan font-weight="bold">1,370</tspan></text>
<text x="180" y="3096" textLength="138">Nov 2017: <tspan font-weight="bold">1,606</tspan></text>
<text x="484" y="3073" textLength="122.5">Nov 2018: <tspan font-weight="bold">189</tspan></text>
<text x="484" y="3096" textLength="120.5">Nov 2017: <tspan font-weight="bold">184</tspan></text>
<text x="829.5" y="2948.5" textLength="126">Nov 2018: <tspan font-weight="bold">705</tspan></text>
<text x="829.5" y="2972" textLength="122">Oct 2018: <tspan font-weight="bold">882</tspan></text>
<text x="1136" y="2948.5" textLength="126">Nov 2018: <tspan font-weight="bold">209</tspan></text>
<text x="1136" y="2972" textLength="117">Oct 2018: <tspan font-weight="bold">331</tspan></text>
<text x="825" y="3073" textLength="138">Nov 2018: <tspan font-weight="bold">1,370</tspan></text>
<text x="825" y="3096" textLength="131">Oct 2018: <tspan font-weight="bold">1,519</tspan></text>
<text x="1133" y="3073" textLength="122">Nov 2018: <tspan font-weight="bold">189</tspan></text>
<text x="1133" y="3096" textLength="117">Oct 2018: <tspan font-weight="bold">172</tspan></text>
</g>

<text x="486" y="3176" font-size="24" font-style="italic" fill="#8a8a8a" textLength="346" lengthAdjust="spacingAndGlyphs">Source: Toronto Real Estate Board</text>

<!-- FOOTER -->
<rect x="0" y="3219" width="1300" height="137" fill="#f1f2f2"/>
<g font-size="20" font-weight="bold" fill="#5a5b5d">
<text x="57" y="3270.7" textLength="835" lengthAdjust="spacingAndGlyphs">Zoocasa.com is a real estate website that provides advanced online search tools and data</text>
<text x="57" y="3292.7" textLength="796" lengthAdjust="spacingAndGlyphs">to empower Canadians to buy or sell their homes faster, easier and more successfully.</text>
<text x="57" y="3314" textLength="741" lengthAdjust="spacingAndGlyphs">Home buyers can browse real estate listings on the website or the free iOS app.</text>
</g>
<rect x="954" y="3244" width="1.6" height="90" fill="#a0a3a8"/>
<text x="1024" y="3303" font-size="58" font-weight="bold" fill="#2b2b2b" textLength="211" lengthAdjust="spacingAndGlyphs">zoocasa</text>
</svg>
</body></html>
